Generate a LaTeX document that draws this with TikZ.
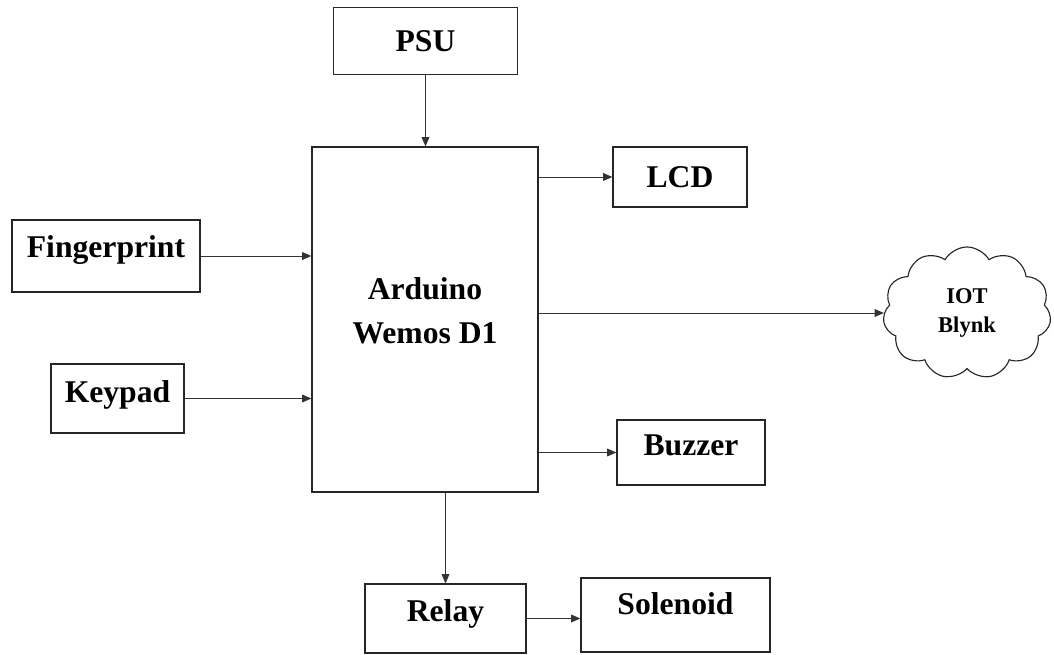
\documentclass[tikz,border=0pt]{standalone}
\usepackage{fontspec}
\setmainfont{Liberation Serif}
\usetikzlibrary{shapes.symbols, arrows.meta, positioning, calc}

\begin{document}
\begin{tikzpicture}[
  x=0.025cm, y=-0.025cm,
  block/.style={rectangle, draw=black!85, line width=0.9pt, inner sep=2pt,
    font=\fontsize{22.5}{31}\selectfont\bfseries, align=center},
  iot/.style={cloud, cloud puffs=11, cloud puff arc=120, aspect=1.25, draw=black!85,
    line width=0.8pt, minimum width=4.2cm, minimum height=3.3cm, inner sep=0pt,
    font=\fontsize{16}{21}\selectfont\bfseries, align=center},
  arr/.style={-{Triangle[length=6.5pt, width=5.5pt]}, line width=0.6pt, black!80},
]
  \useasboundingbox[fill=white] (0,0) rectangle (1054,655);

  % blocks
  \node[block, minimum width=5.65cm, minimum height=8.625cm, text depth=13pt] (ard) at (425,319.5)
    {Arduino\\Wemos D1};
  \node[block, minimum width=4.6cm, minimum height=1.675cm] (psu) at (425.5,41) {PSU};
  \node[block, minimum width=3.35cm, minimum height=1.5cm] (lcd) at (680,177) {LCD};
  \node[block, minimum width=4.7cm, minimum height=1.8cm, text depth=14pt] (fing) at (106,256) {Fingerprint};
  \node[block, minimum width=3.325cm, minimum height=1.725cm, text depth=10pt] (key) at (117.5,398.5) {Keypad};
  \node[block, minimum width=3.7cm, minimum height=1.625cm, text depth=10pt] (buz) at (691,452.5) {Buzzer};
  \node[block, minimum width=4.025cm, minimum height=1.725cm, text depth=12pt] (relay) at (445.5,618.5) {Relay};
  \node[block, minimum width=4.725cm, minimum height=1.85cm, text depth=16pt] (sol) at (675.5,615) {Solenoid};
  \node[iot] (blynk) at (967,313) {IOT\\Blynk};

  % connections
  \draw[arr] (psu.south) -- (psu.south |- ard.north);
  \draw[arr] (fing.east) -- (fing.east -| ard.west);
  \draw[arr] (key.east) -- (key.east -| ard.west);
  \draw[arr] (ard.east |- lcd.west) -- (lcd.west);
  \draw[arr] (ard.east |- blynk.west) -- (blynk.west);
  \draw[arr] (ard.east |- buz.west) -- (buz.west);
  \draw[arr] (ard.south -| relay.north) -- (relay.north);
  \draw[arr] (relay.east) -- (relay.east -| sol.west);
\end{tikzpicture}
\end{document}
